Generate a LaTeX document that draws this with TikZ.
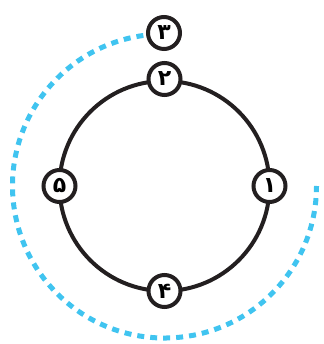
\documentclass[tikz,border=0pt]{standalone}
\usepackage{fontspec}
\usetikzlibrary{calc}
\newfontfamily\persianfont[Script=Arabic]{DejaVu Sans}
\definecolor{arccyan}{RGB}{64,196,240}
\definecolor{ringblack}{RGB}{35,31,32}

\begin{document}
\begin{tikzpicture}[x=1pt,y=1pt,
  stage/.style={circle,draw=ringblack,line width=4pt,fill=white,
    minimum size=32pt,inner sep=0pt,
    font=\persianfont\bfseries\fontsize{22}{24}\selectfont}]
\useasboundingbox (0,0) rectangle (323,344);
% ================= ring =================
\coordinate (c) at (164.5,158);
\draw[ringblack,line width=4pt] (c) circle[radius=105];
% ================= dashed return arc =================
\draw[arccyan,line width=5pt,dash pattern=on 7pt off 6pt]
  ($(c)+(98:152)$) arc[start angle=98,end angle=360,radius=152];
% ================= stages =================
\node[stage] (s1) at ($(c)+(0:105)$) {۱};
\node[stage] (s2) at ($(c)+(90:107)$) {۲};
\node[stage] (s3) at (164,311) {۳};
\node[stage] (s4) at ($(c)+(270:105)$) {۴};
\node[stage] (s5) at ($(c)+(180:105)$) {۵};
\end{tikzpicture}
\end{document}
